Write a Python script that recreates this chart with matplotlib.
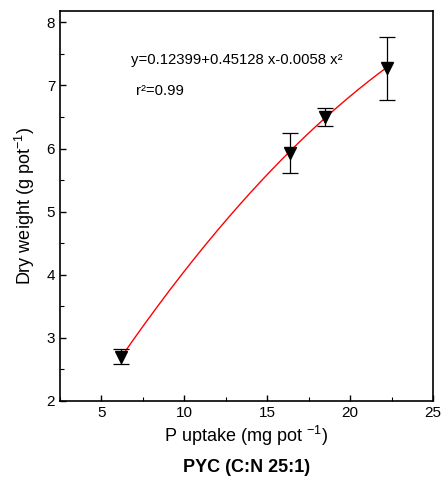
import numpy as np
import matplotlib
matplotlib.use('Agg')
import matplotlib.pyplot as plt
from matplotlib.ticker import MultipleLocator

plt.rcParams['font.family'] = ['Liberation Sans', 'DejaVu Sans']
plt.rcParams['mathtext.fontset'] = 'custom'
plt.rcParams['mathtext.rm'] = 'Liberation Sans'
plt.rcParams['mathtext.it'] = 'Liberation Sans:italic'
plt.rcParams['mathtext.bf'] = 'Liberation Sans:bold'

# measured points
p_uptake = [6.17, 16.38, 18.49, 22.22]
dry_weight = [2.70, 5.93, 6.50, 7.27]
dw_err = [0.12, 0.32, 0.15, 0.50]

# quadratic fit shown on the chart: c0 + c1 x + c2 x^2
fit_coef = [0.12399, 0.45128, -0.0058]
eq_text = 'y=0.12399+0.45128 x-0.0058 x\u00b2'
r2_text = 'r\u00b2=0.99'

fig = plt.figure(figsize=(4.44, 4.82), dpi=100)
ax = fig.add_axes([60 / 444, 1 - 401 / 482, 373 / 444, 390 / 482])

xs = np.linspace(min(p_uptake), max(p_uptake), 200)
ax.plot(xs, np.polyval(fit_coef[::-1], xs), color='red', lw=1.0, zorder=2)

ax.errorbar(p_uptake, dry_weight, yerr=dw_err, fmt='v', color='black',
            ms=9, capsize=6, elinewidth=0.9, capthick=0.9, zorder=3)

ax.set_xlim(2.5, 25)
ax.set_ylim(2, 8.18)
ax.xaxis.set_major_locator(MultipleLocator(5))
ax.xaxis.set_minor_locator(MultipleLocator(2.5))
ax.yaxis.set_major_locator(MultipleLocator(1))
ax.yaxis.set_minor_locator(MultipleLocator(0.5))
ax.tick_params(which='both', direction='in', top=False, right=False, labelsize=11)
ax.tick_params(which='major', length=4.5, width=1)
ax.tick_params(which='minor', length=3, width=0.8)
for s in ax.spines.values():
    s.set_linewidth(1.2)

ax.set_xlabel(r'P uptake (mg pot $^{-1}$)', fontsize=13, labelpad=3)
ax.set_ylabel(r'Dry weight (g pot$^{-1}$)', fontsize=13, labelpad=7)

ax.text(0.19, 0.875, eq_text, transform=ax.transAxes, fontsize=10.7, va='center')
ax.text(0.205, 0.795, r2_text, transform=ax.transAxes, fontsize=10.7, va='center')

fig.text(0.5 * (60 + 433) / 444, 1 - 468 / 482, 'PYC (C:N 25:1)', fontsize=13,
         fontweight='bold', ha='center', va='center')

fig.savefig('out.png', dpi=100)
